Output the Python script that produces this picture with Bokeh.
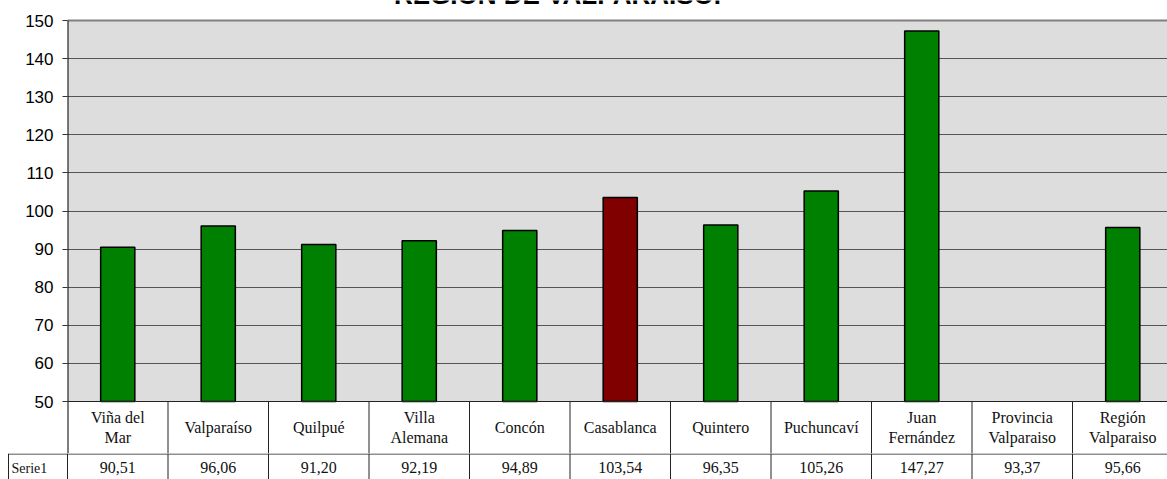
from bokeh.plotting import figure
from bokeh.models import Range1d, FixedTicker
from bokeh.layouts import column
from bokeh.core.properties import value
from bokeh.embed import file_html
from bokeh.resources import INLINE

# ---- data ----
title_text = "REGION DE VALPARAISO."
categories = ["Viña del\nMar", "Valparaíso", "Quilpué", "Villa\nAlemana", "Concón",
              "Casablanca", "Quintero", "Puchuncaví", "Juan\nFernández",
              "Provincia\nValparaiso", "Región\nValparaiso"]
values = [90.51, 96.06, 91.20, 92.19, 94.89, 103.54, 96.35, 105.26, 147.27, 93.37, 95.66]
series_name = "Serie1"
bar_colors = ["#008000", "#008000", "#008000", "#008000", "#008000", "#800000",
              "#008000", "#008000", "#008000", "#008000", "#008000"]
bar_alpha = [1, 1, 1, 1, 1, 1, 1, 1, 1, 0, 1]
y_ticks = [50, 60, 70, 80, 90, 100, 110, 120, 130, 140, 150]

# ---- layout geometry (pixels) ----
W, H = 1167, 479
left = 67
top_px = 20                   # y pixel of value 150
plot_bottom_px = 401          # y pixel of value 50
header_bottom_px = 453
row_h = H - header_bottom_px
cell_left_px = 8
n = len(categories)
idx = list(range(n))
px_per_cat = 100.5
x_end = -0.5 + (W - left) / px_per_cat
ymin, ymax = y_ticks[0], y_ticks[-1]
u_per_px = (ymax - ymin) / (plot_bottom_px - top_px)


def y_of(py):
    return ymax - (py - top_px) * u_per_px


# ---- chart + table header ----
p = figure(width=W, height=header_bottom_px, output_backend="svg", toolbar_location=None,
           x_range=Range1d(-0.5, x_end), y_range=Range1d(y_of(header_bottom_px), y_of(0)),
           x_axis_location=None, min_border_left=left, min_border_right=0,
           min_border_top=0, min_border_bottom=0)
p.frame_align = False
p.background_fill_color = "white"
p.border_fill_color = "white"
p.outline_line_color = None
p.xgrid.visible = False
p.ygrid.ticker = FixedTicker(ticks=y_ticks)
p.ygrid.grid_line_color = "#555555"
p.yaxis.ticker = FixedTicker(ticks=y_ticks)
p.yaxis.major_label_text_font = "Liberation Sans"
p.yaxis.major_label_text_font_size = "17px"
p.yaxis.major_label_text_color = "black"
p.yaxis.major_tick_out = 5
p.yaxis.major_tick_in = 0
p.yaxis.minor_tick_line_color = None
p.yaxis.axis_line_color = None
p.yaxis.major_tick_line_color = "#333333"
p.yaxis.major_label_standoff = 9

p.quad(left=[-0.5], right=[x_end], bottom=[ymin], top=[ymax],
       fill_color="#DDDDDD", line_color=None, level="image")
p.segment(x0=[-0.5], y0=[ymax], x1=[x_end], y1=[ymax], line_color="#808080", line_width=2)
p.segment(x0=[-0.5], y0=[ymax], x1=[-0.5], y1=[y_of(header_bottom_px)],
          line_color="black", line_width=2)

p.vbar(x=idx, top=values, bottom=ymin, width=0.34, fill_color=bar_colors,
       fill_alpha=bar_alpha, line_alpha=bar_alpha, line_color="black", line_width=1.5)

bounds = [i + 0.5 for i in range(n)]
p.segment(x0=bounds, y0=[ymin] * n, x1=bounds, y1=[y_of(header_bottom_px)] * n,
          line_color="#222222", line_width=1)
p.segment(x0=[-0.5], y0=[ymin], x1=[x_end], y1=[ymin], line_color="#222222", line_width=1)
p.text(x=idx, y=[y_of(427)] * n, text=categories, text_align="center",
       text_baseline="middle", text_font=value("Liberation Serif"),
       text_font_size="16px", text_color="#111111", text_line_height=1.2)

p.text(x=[-0.5 + (557 - left) / px_per_cat], y=[y_of(-6)], text=[title_text],
       text_align="center", text_baseline="alphabetic", text_font=value("Liberation Sans"),
       text_font_style="bold", text_font_size="26px", text_color="black")

# ---- table data row ----
x_start_row = -0.5 - left / px_per_cat
x_cell = -0.5 - (left - cell_left_px) / px_per_cat
t = figure(width=W, height=row_h, output_backend="svg", toolbar_location=None,
           x_range=Range1d(x_start_row, x_end), y_range=Range1d(row_h, 0),
           x_axis_location=None, y_axis_location=None,
           min_border_left=0, min_border_right=0, min_border_top=0, min_border_bottom=0)
t.frame_align = False
t.grid.visible = False
t.outline_line_color = None
t.background_fill_color = "white"
t.border_fill_color = "white"

row_bounds = [x_cell, -0.5] + bounds
t.segment(x0=row_bounds, y0=[0] * len(row_bounds), x1=row_bounds,
          y1=[row_h] * len(row_bounds), line_color="#222222", line_width=1)
t.segment(x0=[x_cell], y0=[0.5], x1=[x_end], y1=[0.5], line_color="#222222", line_width=1)
t.text(x=idx, y=[row_h / 2 + 1] * n, text=[f"{v:.2f}".replace(".", ",") for v in values],
       text_align="center", text_baseline="middle", text_font=value("Liberation Serif"),
       text_font_size="16px", text_color="#111111")
t.text(x=[x_cell + 3 / px_per_cat], y=[row_h / 2 + 2], text=[series_name], text_align="left",
       text_baseline="middle", text_font=value("Liberation Serif"), text_font_size="14px",
       text_color="#111111")

layout = column(p, t, spacing=0)
open("out.html", "w").write(file_html(layout, INLINE))
